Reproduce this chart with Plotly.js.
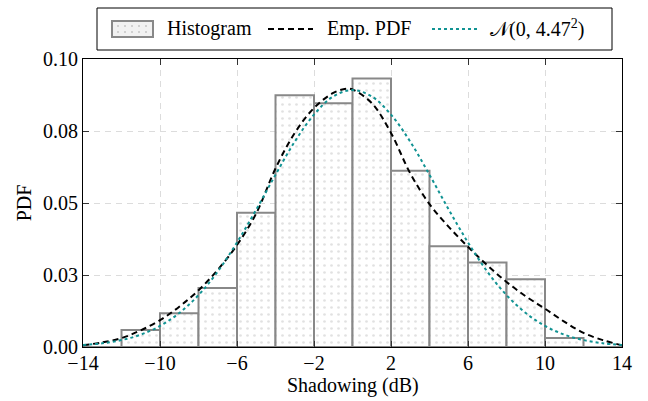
<!DOCTYPE html>
<html>
<head>
<meta charset="utf-8">
<script src="https://cdn.plot.ly/plotly-3.0.1.min.js"></script>
<style>html,body{margin:0;padding:0;background:#fff;}#chart{width:648px;height:401px;}</style>
</head>
<body>
<div id="chart"></div>
<script>
// Histogram bins (centres, dB) and heights (PDF)
var binCenters = [-13, -11, -9, -7, -5, -3, -1, 1, 3, 5, 7, 9, 11, 13];
var binHeights = [0.0, 0.0059, 0.0117, 0.0205, 0.0466, 0.0874, 0.0846, 0.0932, 0.0612, 0.0350, 0.0293, 0.0235, 0.0031, 0.0];

// Empirical PDF (dashed black)
var empX = [-14, -13, -12, -11, -10, -9, -8, -7, -6, -5, -4, -3, -2, -1, -0.3, 0, 1, 2, 3, 4, 5, 6, 7, 8, 9, 10, 11, 12, 13, 14];
var empY = [0.0006, 0.0016, 0.0031, 0.0058, 0.0093, 0.0140, 0.0197, 0.0268, 0.0354, 0.0464, 0.0620, 0.0743, 0.0830, 0.0882, 0.0897, 0.0894, 0.0847, 0.0743, 0.0603, 0.0496, 0.0417, 0.0348, 0.0284, 0.0226, 0.0176, 0.0133, 0.0088, 0.0049, 0.0024, 0.0006];

// Normal fit N(0, 4.47^2) (dotted teal)
var normX = [-14, -13, -12, -11, -10, -9, -8, -7, -6, -5, -4, -3, -2, -1, 0, 1, 2, 3, 4, 5, 6, 7, 8, 9, 10, 11, 12, 13, 14];
var normY = [0.00066, 0.0013, 0.0024, 0.0043, 0.0073, 0.0118, 0.0180, 0.0262, 0.0363, 0.0477, 0.0598, 0.0713, 0.0807, 0.0870, 0.0892, 0.0870, 0.0807, 0.0713, 0.0598, 0.0477, 0.0363, 0.0262, 0.0180, 0.0118, 0.0073, 0.0043, 0.0024, 0.0013, 0.00066];

// Axis ticks
var xTickVals = [-14, -10, -6, -2, 2, 6, 10, 14];
var xTickText = ['\u221214', '\u221210', '\u22126', '\u22122', '2', '6', '10', '14'];
var yTickVals = [0, 0.025, 0.05, 0.075, 0.1];
var yTickText = ['0.00', '0.03', '0.05', '0.08', '0.10'];

// Labels
var seriesNames = ['Histogram', 'Emp. PDF', '\uD835\uDCA9(0, 4.47<sup>2</sup>)'];
var xTitle = 'Shadowing (dB)';
var yTitle = 'PDF';

var FONT = 'Liberation Serif, Times New Roman, serif';
var FS = 20;
var teal = '#119393';

var traces = [
  {
    type: 'bar', x: binCenters, y: binHeights, width: 2, name: seriesNames[0],
    marker: {
      color: '#ffffff',
      line: {color: '#888888', width: 2},
      pattern: {shape: '.', fgcolor: '#c4c4c4', bgcolor: '#ffffff', size: 7, solidity: 0.12, fillmode: 'overlay'}
    },
    hoverinfo: 'skip'
  },
  {
    type: 'scatter', mode: 'lines', x: empX, y: empY, name: seriesNames[1],
    line: {color: '#000000', width: 2, dash: '6px,4px', shape: 'spline', smoothing: 1}
  },
  {
    type: 'scatter', mode: 'lines', x: normX, y: normY, name: seriesNames[2],
    line: {color: teal, width: 2, dash: 'dot', shape: 'spline', smoothing: 1}
  }
];

// helpers: pixel -> paper coordinates (plot area 83..622 x, 59..347 y)
function px(p) { return (p - 83) / 539; }
function py(p) { return 1 + (59 - p) / 288; }

var legY = 29;
var shapes = [
  {type: 'rect', xref: 'paper', yref: 'paper', x0: px(97), x1: px(612), y0: py(50), y1: py(8),
   line: {color: '#000', width: 1}, fillcolor: 'rgba(0,0,0,0)', layer: 'above'},
  {type: 'rect', xref: 'paper', yref: 'paper', x0: px(112), x1: px(153), y0: py(37), y1: py(21),
   line: {color: '#888888', width: 2}, fillcolor: '#f1f1f1', layer: 'above'},
  {type: 'line', xref: 'paper', yref: 'paper', x0: px(268), x1: px(313), y0: py(legY), y1: py(legY),
   line: {color: '#000', width: 2, dash: '6px,4px'}, layer: 'above'},
  {type: 'line', xref: 'paper', yref: 'paper', x0: px(432), x1: px(478), y0: py(legY), y1: py(legY),
   line: {color: teal, width: 2, dash: 'dot'}, layer: 'above'}
];
[118, 125, 132, 139, 146].forEach(function (cx) {
  [26, 32].forEach(function (cy) {
    shapes.push({type: 'circle', xref: 'paper', yref: 'paper', x0: px(cx - 1), x1: px(cx + 1), y0: py(cy + 1), y1: py(cy - 1),
      line: {width: 0}, fillcolor: '#c4c4c4', layer: 'above'});
  });
});

var annotations = [
  {xref: 'paper', yref: 'paper', x: px(165), y: py(legY), xanchor: 'left', yanchor: 'middle', text: seriesNames[0], showarrow: false, font: {family: FONT, size: FS, color: '#000'}},
  {xref: 'paper', yref: 'paper', x: px(325), y: py(legY), xanchor: 'left', yanchor: 'middle', text: seriesNames[1], showarrow: false, font: {family: FONT, size: FS, color: '#000'}},
  {xref: 'paper', yref: 'paper', x: px(488), y: py(legY), xanchor: 'left', yanchor: 'middle', text: seriesNames[2], showarrow: false, font: {family: FONT, size: FS, color: '#000'}},
  {xref: 'paper', yref: 'paper', x: 0.5, y: py(385), xanchor: 'center', yanchor: 'middle', text: xTitle, showarrow: false, font: {family: FONT, size: FS, color: '#000'}}
];

var layout = {
  width: 648, height: 401,
  margin: {l: 83, r: 26, t: 59, b: 54},
  paper_bgcolor: '#ffffff', plot_bgcolor: '#ffffff',
  font: {family: FONT, size: FS, color: '#000'},
  bargap: 0,
  showlegend: false,
  shapes: shapes,
  annotations: annotations,
  xaxis: {
    range: [-14, 14], tickvals: xTickVals, ticktext: xTickText,
    showgrid: true, gridcolor: '#dcdcdc', griddash: '6px,5px', gridwidth: 1,
    showline: true, linecolor: '#000', linewidth: 1, mirror: 'ticks',
    ticks: 'inside', ticklen: 6, tickcolor: '#333', zeroline: false,
    ticklabelstandoff: -2,
    tickfont: {size: FS}
  },
  yaxis: {
    range: [0, 0.1], tickvals: yTickVals, ticktext: yTickText,
    showgrid: true, gridcolor: '#dcdcdc', griddash: '6px,5px', gridwidth: 1,
    showline: true, linecolor: '#000', linewidth: 1, mirror: 'ticks',
    ticks: 'inside', ticklen: 6, tickcolor: '#333', zeroline: false,
    tickfont: {size: FS},
    title: {text: yTitle, standoff: 6, font: {size: FS}}
  }
};

Plotly.newPlot('chart', traces, layout, {displayModeBar: false, staticPlot: true});
</script>
</body>
</html>
